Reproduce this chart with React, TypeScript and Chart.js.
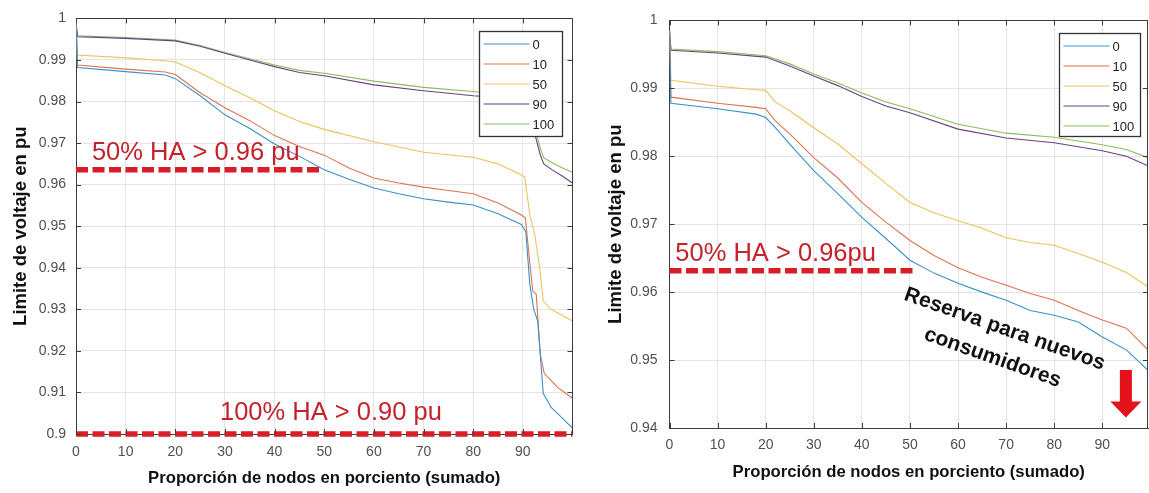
import React, { useEffect, useRef } from 'react';
import { Chart, registerables } from 'chart.js';

Chart.register(...registerables);

// ---------- shared labels / ticks ----------
const seriesLabels = ['0', '10', '50', '90', '100'];
const seriesColors = ['#3d8fc9', '#d9754f', '#ecc35c', '#6c3f80', '#8dba5f'];

const xTicks = [0, 10, 20, 30, 40, 50, 60, 70, 80, 90];
const xTickLabels = ['0', '10', '20', '30', '40', '50', '60', '70', '80', '90'];

const leftYTicks = [0.9, 0.91, 0.92, 0.93, 0.94, 0.95, 0.96, 0.97, 0.98, 0.99, 1];
const leftYTickLabels = ['0.9', '0.91', '0.92', '0.93', '0.94', '0.95', '0.96', '0.97', '0.98', '0.99', '1'];

const rightYTicks = [0.94, 0.95, 0.96, 0.97, 0.98, 0.99, 1];
const rightYTickLabels = ['0.94', '0.95', '0.96', '0.97', '0.98', '0.99', '1'];

const xTitle = 'Proporción de nodos en porciento (sumado)';
const yTitle = 'Limite de voltaje en pu';

// ---------- left panel data ----------
const leftX0 = [0, 0.3, 10, 18, 20, 25, 30, 35, 40, 45, 50, 55, 60, 65, 70, 75, 80, 85, 89.7, 90.6, 91.4, 92.2, 93.0, 94.1, 95.7, 97.8, 100];
const leftY0 = [0.999, 0.9882, 0.9872, 0.9864, 0.9855, 0.9814, 0.9768, 0.9735, 0.9698, 0.9668, 0.9636, 0.9613, 0.9592, 0.9578, 0.9566, 0.9558, 0.9551, 0.953, 0.9504, 0.9487, 0.936, 0.93, 0.9272, 0.9098, 0.9064, 0.904, 0.9014];

const leftX10 = [0, 0.3, 10, 18, 20, 25, 30, 35, 40, 45, 50, 55, 60, 65, 70, 75, 80, 85, 89.7, 90.5, 91.5, 92.0, 92.7, 93.5, 94.3, 97.0, 100];
const leftY10 = [0.999, 0.9888, 0.9878, 0.9871, 0.9865, 0.9821, 0.9785, 0.9754, 0.9718, 0.9692, 0.9671, 0.964, 0.9616, 0.9604, 0.9594, 0.9586, 0.9578, 0.9556, 0.9527, 0.952, 0.94, 0.9344, 0.9336, 0.9193, 0.9146, 0.9112, 0.9086];

const leftX50 = [0, 0.3, 10, 18, 20, 25, 30, 35, 40, 45, 50, 60, 70, 80, 85, 89.7, 90.4, 91.4, 92.4, 93.4, 94.1, 95.7, 100];
const leftY50 = [0.999, 0.9912, 0.9905, 0.9898, 0.9895, 0.9869, 0.9838, 0.9809, 0.9778, 0.9752, 0.9733, 0.9703, 0.9678, 0.9666, 0.965, 0.9623, 0.9618, 0.9527, 0.948, 0.9399, 0.932, 0.93, 0.9272];

const leftX90 = [0, 0.3, 10, 20, 25, 30, 35, 40, 45, 50, 60, 70, 80, 85, 90, 91, 92.5, 93.5, 94.2, 96, 98, 100];
const leftY90 = [0.999, 0.9956, 0.9952, 0.9946, 0.9933, 0.9916, 0.99, 0.9884, 0.987, 0.9862, 0.984, 0.9826, 0.9814, 0.981, 0.9803, 0.978, 0.9718, 0.9672, 0.965, 0.9635, 0.962, 0.9604];

const leftX100 = [0, 0.3, 10, 20, 25, 30, 35, 40, 45, 50, 60, 70, 80, 85, 90, 91, 92.5, 93.5, 94.2, 96, 98, 100];
const leftY100 = [0.999, 0.9958, 0.9954, 0.9948, 0.9935, 0.9918, 0.9903, 0.9888, 0.9875, 0.9868, 0.9849, 0.9834, 0.9824, 0.9818, 0.9812, 0.979, 0.9735, 0.9688, 0.9665, 0.9652, 0.964, 0.963];

// reference (threshold) lines, left panel
const leftRef96X = [0, 49.7];
const leftRef96Y = [0.96358, 0.96358];
const leftRef90X = [0, 100];
const leftRef90Y = [0.9, 0.9];

// ---------- right panel data ----------
const rightXA = [0, 0.3, 10, 18, 20, 22, 25, 30, 35, 40, 45, 50, 55, 60, 65, 70, 75, 80, 85, 90, 95, 99.5];
const rightY0 = [0.9985, 0.9878, 0.987, 0.9862, 0.9857, 0.9842, 0.9818, 0.9779, 0.9745, 0.971, 0.9679, 0.9647, 0.9628, 0.9613, 0.96, 0.9588, 0.9573, 0.9566, 0.9556, 0.9534, 0.9515, 0.9485];
const rightY10 = [0.9985, 0.9887, 0.9878, 0.9872, 0.987, 0.9852, 0.9833, 0.9798, 0.9768, 0.9732, 0.9703, 0.9676, 0.9654, 0.9636, 0.9622, 0.961, 0.9598, 0.9588, 0.9573, 0.9559, 0.9547, 0.9515];
const rightY50 = [0.9985, 0.9912, 0.9903, 0.9898, 0.9897, 0.988, 0.9867, 0.9842, 0.9818, 0.9789, 0.976, 0.9732, 0.9717, 0.9705, 0.9694, 0.968, 0.9673, 0.9669, 0.9657, 0.9644, 0.9629, 0.9608];
const rightXB = [0, 0.3, 10, 20, 25, 30, 35, 40, 45, 50, 60, 70, 80, 90, 95, 99.5];
const rightY90 = [0.9985, 0.9956, 0.9952, 0.9946, 0.9933, 0.9918, 0.9904, 0.9888, 0.9874, 0.9864, 0.984, 0.9827, 0.982, 0.9808, 0.98, 0.9786];
const rightY100 = [0.9985, 0.9958, 0.9954, 0.9948, 0.9936, 0.9921, 0.9908, 0.9893, 0.988, 0.987, 0.9847, 0.9834, 0.9828, 0.9817, 0.981, 0.9798];

const rightRef96X = [0, 50.6];
const rightRef96Y = [0.96314, 0.96314];

// ---------- helpers ----------
const FONT = '"Liberation Sans", Arial, "DejaVu Sans", sans-serif';
const RED_LINE = '#d81e27';
const RED_TEXT = '#c4222c';

const pts = (xs: number[], ys: number[]) => xs.map((x, i) => ({ x, y: ys[i] }));

function seriesDatasets(list: [number[], number[]][]) {
  return list.map(([xs, ys], i) => ({
    label: seriesLabels[i],
    data: pts(xs, ys),
    borderColor: seriesColors[i],
    backgroundColor: seriesColors[i],
    borderWidth: 1.1,
    pointRadius: 0,
    tension: 0,
    fill: false,
  }));
}

function refDataset(xs: number[], ys: number[]) {
  return {
    label: 'ref',
    data: pts(xs, ys),
    borderColor: RED_LINE,
    borderWidth: 5.5,
    borderDash: [12, 4.5],
    borderCapStyle: 'butt',
    pointRadius: 0,
    fill: false,
    clip: false,
  };
}

type Note = { text: string; x: number; y: number };
type Panel = {
  canvasLeft: number;
  width: number;
  height: number;
  yAxisWidth: number;
  xAxisHeight: number;
  padTop: number;
  padRight: number;
  xMax: number;
  yMin: number;
  yMax: number;
  yTicks: number[];
  yTickLabels: string[];
  yTitlePad: number;
  xTitlePad: number;
  xTickPad: number;
  yTickPad: number;
  legend: { right: number; top: number; w: number; h: number };
  notes: Note[];
  datasets: any[];
  reserve?: { lines: { text: string; x: number; y: number }[]; angle: number };
  arrow?: { x: number; top: number; base: number; tip: number };
};

function overlayPlugin(p: Panel) {
  return {
    id: 'overlay',
    afterDatasetsDraw(chart: any) {
      const { ctx, chartArea: a } = chart;
      ctx.save();
      // legend box
      const bx = Math.round(a.right - p.legend.right - p.legend.w) + 0.5;
      const by = Math.round(a.top + p.legend.top) + 0.5;
      ctx.fillStyle = '#ffffff';
      ctx.fillRect(bx, by, p.legend.w, p.legend.h);
      ctx.strokeStyle = '#333333';
      ctx.lineWidth = 1.3;
      ctx.strokeRect(bx, by, p.legend.w, p.legend.h);
      ctx.font = `13px ${FONT}`;
      ctx.textBaseline = 'middle';
      ctx.textAlign = 'left';
      seriesLabels.forEach((lab, i) => {
        const yy = by + 12.5 + 20 * i;
        ctx.strokeStyle = seriesColors[i];
        ctx.lineWidth = 1.2;
        ctx.beginPath();
        ctx.moveTo(bx + 4, yy);
        ctx.lineTo(bx + 50, yy);
        ctx.stroke();
        ctx.fillStyle = '#222222';
        ctx.fillText(lab, bx + 53, yy + 1);
      });
      ctx.restore();
    },
    afterDraw(chart: any) {
      const { ctx, chartArea: a, scales } = chart;
      const xs = scales.x;
      const ys = scales.y;
      ctx.save();
      // box top / right
      ctx.strokeStyle = '#3c3c3c';
      ctx.lineWidth = 1;
      ctx.beginPath();
      ctx.moveTo(a.left, Math.round(a.top) + 0.5);
      ctx.lineTo(a.right, Math.round(a.top) + 0.5);
      ctx.moveTo(Math.round(a.right) - 0.5, a.top);
      ctx.lineTo(Math.round(a.right) - 0.5, a.bottom);
      ctx.stroke();
      // inward ticks
      ctx.beginPath();
      xTicks.forEach((v) => {
        const px = Math.round(xs.getPixelForValue(v)) + 0.5;
        ctx.moveTo(px, a.bottom);
        ctx.lineTo(px, a.bottom - 5);
        ctx.moveTo(px, a.top);
        ctx.lineTo(px, a.top + 5);
      });
      p.yTicks.forEach((v) => {
        const py = Math.round(ys.getPixelForValue(v)) + 0.5;
        ctx.moveTo(a.left, py);
        ctx.lineTo(a.left + 5, py);
        ctx.moveTo(a.right, py);
        ctx.lineTo(a.right - 5, py);
      });
      ctx.stroke();

      // red notes
      ctx.fillStyle = RED_TEXT;
      ctx.font = `25.5px ${FONT}`;
      ctx.textAlign = 'left';
      ctx.textBaseline = 'alphabetic';
      p.notes.forEach((n) => {
        ctx.fillText(n.text, xs.getPixelForValue(n.x), ys.getPixelForValue(n.y));
      });

      // rotated black note
      if (p.reserve) {
        const ang = (p.reserve.angle * Math.PI) / 180;
        ctx.fillStyle = '#111111';
        ctx.font = `bold 21px ${FONT}`;
        ctx.textAlign = 'center';
        p.reserve.lines.forEach((l) => {
          ctx.save();
          ctx.translate(xs.getPixelForValue(l.x), ys.getPixelForValue(l.y));
          ctx.rotate(ang);
          ctx.fillText(l.text, 0, 7.5);
          ctx.restore();
        });
      }

      // red arrow
      if (p.arrow) {
        const cx = xs.getPixelForValue(p.arrow.x);
        const t = ys.getPixelForValue(p.arrow.top);
        const b = ys.getPixelForValue(p.arrow.base);
        const tip = ys.getPixelForValue(p.arrow.tip);
        ctx.fillStyle = '#e3121b';
        ctx.beginPath();
        ctx.moveTo(cx - 6, t);
        ctx.lineTo(cx + 6, t);
        ctx.lineTo(cx + 6, b);
        ctx.lineTo(cx + 15.5, b);
        ctx.lineTo(cx, tip);
        ctx.lineTo(cx - 15.5, b);
        ctx.lineTo(cx - 6, b);
        ctx.closePath();
        ctx.fill();
      }
      ctx.restore();
    },
  };
}

function buildConfig(p: Panel): any {
  return {
    type: 'line',
    data: { datasets: p.datasets },
    options: {
      responsive: false,
      animation: false,
      layout: { padding: { top: p.padTop, right: p.padRight, bottom: 0, left: 0 } },
      plugins: { legend: { display: false }, tooltip: { enabled: false } },
      scales: {
        x: {
          type: 'linear',
          min: 0,
          max: p.xMax,
          afterBuildTicks: (s: any) => {
            s.ticks = xTicks.map((v) => ({ value: v }));
          },
          afterFit: (s: any) => {
            s.height = p.xAxisHeight;
          },
          ticks: {
            callback: (_v: any, i: number) => xTickLabels[i],
            color: '#505050',
            font: { family: FONT, size: 14 },
            padding: p.xTickPad,
            maxRotation: 0,
            autoSkip: false,
          },
          grid: { color: '#e4e4e4', drawTicks: false, lineWidth: 1 },
          border: { display: true, color: '#3c3c3c', width: 1 },
          title: {
            display: true,
            text: xTitle,
            color: '#111111',
            font: { family: FONT, size: 16.7, weight: 'bold' },
            padding: { top: 0, bottom: p.xTitlePad },
          },
        },
        y: {
          type: 'linear',
          min: p.yMin,
          max: p.yMax,
          afterBuildTicks: (s: any) => {
            s.ticks = p.yTicks.map((v) => ({ value: v }));
          },
          afterFit: (s: any) => {
            s.width = p.yAxisWidth;
          },
          ticks: {
            callback: (_v: any, i: number) => p.yTickLabels[i],
            color: '#505050',
            font: { family: FONT, size: 14 },
            padding: p.yTickPad,
            autoSkip: false,
          },
          grid: { color: '#e4e4e4', drawTicks: false, lineWidth: 1 },
          border: { display: true, color: '#3c3c3c', width: 1 },
          title: {
            display: true,
            text: yTitle,
            color: '#111111',
            font: { family: FONT, size: 18.5, weight: 'bold' },
            padding: { top: p.yTitlePad, bottom: 0 },
          },
        },
      },
    },
    plugins: [overlayPlugin(p)],
  };
}

const leftPanel: Panel = {
  canvasLeft: 0,
  width: 580,
  height: 493,
  yAxisWidth: 76,
  xAxisHeight: 59,
  padTop: 15,
  padRight: 7.5,
  xMax: 100,
  yMin: 0.9,
  yMax: 1,
  yTicks: leftYTicks,
  yTickLabels: leftYTickLabels,
  yTitlePad: 10,
  xTitlePad: 5,
  xTickPad: 10,
  yTickPad: 10,
  legend: { right: 10.5, top: 13, w: 83, h: 105 },
  notes: [
    { text: '50% HA > 0.96 pu', x: 3.2, y: 0.96587 },
    { text: '100% HA > 0.90 pu', x: 29.0, y: 0.90334 },
  ],
  datasets: [
    ...seriesDatasets([
      [leftX0, leftY0],
      [leftX10, leftY10],
      [leftX50, leftY50],
      [leftX90, leftY90],
      [leftX100, leftY100],
    ]),
    refDataset(leftRef96X, leftRef96Y),
    refDataset(leftRef90X, leftRef90Y),
  ],
};

const rightPanel: Panel = {
  canvasLeft: 580,
  width: 569,
  height: 493,
  yAxisWidth: 89.5,
  xAxisHeight: 65,
  padTop: 19,
  padRight: 1,
  xMax: 99.5,
  yMin: 0.94,
  yMax: 1,
  yTicks: rightYTicks,
  yTickLabels: rightYTickLabels,
  yTitlePad: 25,
  xTitlePad: 11,
  xTickPad: 9,
  yTickPad: 12,
  legend: { right: 8, top: 13, w: 81, h: 103 },
  notes: [{ text: '50% HA > 0.96pu', x: 1.2, y: 0.96452 }],
  datasets: [
    ...seriesDatasets([
      [rightXA, rightY0],
      [rightXA, rightY10],
      [rightXA, rightY50],
      [rightXB, rightY90],
      [rightXB, rightY100],
    ]),
    refDataset(rightRef96X, rightRef96Y),
  ],
  reserve: {
    angle: 19.5,
    lines: [
      { text: 'Reserva para nuevos', x: 69.8, y: 0.95477 },
      { text: 'consumidores', x: 67.3, y: 0.95059 },
    ],
  },
  arrow: { x: 94.9, top: 0.94853, base: 0.94391, tip: 0.94154 },
};

function ChartPanel({ panel }: { panel: Panel }) {
  const ref = useRef<HTMLCanvasElement | null>(null);
  useEffect(() => {
    if (!ref.current) return;
    const chart = new Chart(ref.current, buildConfig(panel));
    return () => chart.destroy();
  }, [panel]);
  return (
    <canvas
      ref={ref}
      width={panel.width}
      height={panel.height}
      style={{
        position: 'absolute',
        left: panel.canvasLeft,
        top: 0,
        width: panel.width,
        height: panel.height,
        display: 'block',
      }}
    />
  );
}

export default function App() {
  return (
    <div
      style={{
        position: 'absolute',
        left: 0,
        top: 0,
        width: 1149,
        height: 493,
        background: '#ffffff',
        overflow: 'hidden',
      }}
    >
      <ChartPanel panel={leftPanel} />
      <ChartPanel panel={rightPanel} />
    </div>
  );
}
